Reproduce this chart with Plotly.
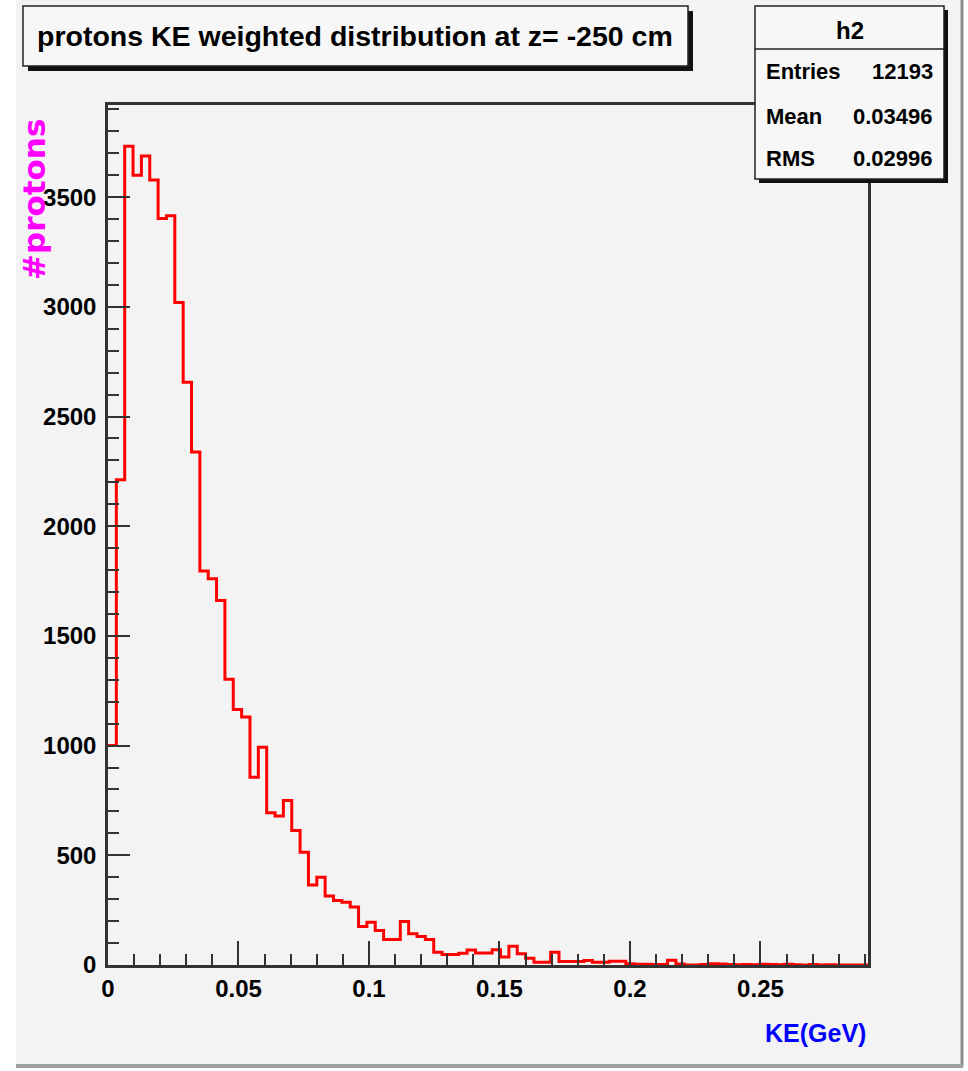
import plotly.graph_objects as go

# ---------------- data ----------------
BIN_WIDTH = 0.0032          # GeV
X_MAX = 0.2912
counts = [
    1000, 2212, 3732, 3600, 3688, 3578, 3403, 3415, 3020, 2656,
    2338, 1796, 1761, 1662, 1302, 1165, 1130, 856, 993, 694,
    679, 750, 613, 514, 365, 400, 315, 294, 286, 264,
    176, 195, 157, 116, 116, 198, 142, 130, 116, 58,
    48, 48, 54, 68, 55, 55, 69, 36, 86, 51,
    31, 13, 13, 58, 16, 16, 16, 20, 13, 13,
    17, 17, 6, 3, 3, 2, 2, 22, 5, 0,
    0, 2, 6, 4, 2, 1, 2, 1, 3, 2,
    1, 3, 1, 0, 2, 0, 1, 0, 0, 0, 0,
]
title_text = "protons KE weighted distribution at z= -250 cm"
stats_name = "h2"
stats_rows = [("Entries", "12193"), ("Mean", "0.03496"), ("RMS", "0.02996")]
x_title = "KE(GeV)"
y_title = "#protons"
x_ticks = [0, 0.05, 0.1, 0.15, 0.2, 0.25]
y_ticks = [0, 500, 1000, 1500, 2000, 2500, 3000, 3500]
Y_MAX = 3920

# ---------------- layout helpers ----------------
W, H = 968, 1071
L, R, T, B = 108, 868, 105, 965   # plot area in pixels


def px(x):
    return (x - L) / (R - L)


def py(y):
    return (B - y) / (B - T)


FONT = "Liberation Sans, Arial, Helvetica, sans-serif"
BG = "#f3f3f3"

edges = [i * BIN_WIDTH for i in range(len(counts) + 1)]
xs = edges
ys = counts + [counts[-1]]

fig = go.Figure()
fig.add_trace(go.Scatter(
    x=xs, y=ys, mode="lines", line=dict(shape="hv", color="#ff0000", width=3),
    hoverinfo="skip", showlegend=False,
))

shapes = []
# canvas background
shapes.append(dict(type="rect", xref="paper", yref="paper", x0=px(16), x1=px(962),
                   y0=py(0), y1=py(1065), fillcolor=BG, line=dict(width=0), layer="below"))
shapes.append(dict(type="line", xref="paper", yref="paper", x0=px(962), x1=px(962),
                   y0=py(0), y1=py(1067), line=dict(color="#8c8c8c", width=3)))
shapes.append(dict(type="line", xref="paper", yref="paper", x0=px(16), x1=px(963),
                   y0=py(1066), y1=py(1066), line=dict(color="#a0a0a0", width=4)))
# title box + shadow
shapes.append(dict(type="rect", xref="paper", yref="paper", x0=px(28), x1=px(693),
                   y0=py(11), y1=py(71), fillcolor="#111111", line=dict(width=0)))
shapes.append(dict(type="rect", xref="paper", yref="paper", x0=px(23), x1=px(688),
                   y0=py(6), y1=py(66), fillcolor="#f7f7f7", line=dict(color="#222", width=1.5)))
# stats box + shadow
shapes.append(dict(type="rect", xref="paper", yref="paper", x0=px(759), x1=px(948),
                   y0=py(10), y1=py(183), fillcolor="#111111", line=dict(width=0)))
shapes.append(dict(type="rect", xref="paper", yref="paper", x0=px(755), x1=px(944),
                   y0=py(6), y1=py(179), fillcolor="#f7f7f7", line=dict(color="#222", width=1.5)))
shapes.append(dict(type="line", xref="paper", yref="paper", x0=px(755), x1=px(944),
                   y0=py(49), y1=py(49), line=dict(color="#222", width=1.5)))

ann = []
ann.append(dict(text=title_text, xref="paper", yref="paper", x=px(355), y=py(36),
                xanchor="center", yanchor="middle", showarrow=False,
                font=dict(family=FONT, size=28.5, color="black", weight="bold")))
ann.append(dict(text=stats_name, xref="paper", yref="paper", x=px(850), y=py(30),
                xanchor="center", yanchor="middle", showarrow=False,
                font=dict(family=FONT, size=24, color="black", weight="bold")))
row_y = [72, 116, 159]
for (k, v), yy in zip(stats_rows, row_y):
    ann.append(dict(text=k, xref="paper", yref="paper", x=px(764), y=py(yy),
                    xanchor="left", yanchor="middle", showarrow=False,
                    font=dict(family=FONT, size=22, color="black", weight="bold")))
    ann.append(dict(text=v, xref="paper", yref="paper", x=px(935), y=py(yy),
                    xanchor="right", yanchor="middle", showarrow=False,
                    font=dict(family=FONT, size=22, color="black", weight="bold")))
ann.append(dict(text=x_title, xref="paper", yref="paper", x=px(868), y=py(1033),
                xanchor="right", yanchor="middle", showarrow=False,
                font=dict(family=FONT, size=25, color="#0000ff", weight="bold")))
ann.append(dict(text=y_title, xref="paper", yref="paper", x=px(34), y=py(200),
                xanchor="center", yanchor="middle", showarrow=False, textangle=-90,
                font=dict(family="DejaVu Sans", size=31, color="#ff00ff", weight="bold")))

tickfont = dict(family=FONT, size=24, color="black", weight="bold")
fig.update_layout(
    width=W, height=H,
    margin=dict(l=L, r=W - R, t=T, b=H - B, pad=0),
    paper_bgcolor="white", plot_bgcolor=BG,
    shapes=shapes, annotations=ann, showlegend=False,
    xaxis=dict(range=[0, X_MAX], tickvals=x_ticks, ticktext=[f"{v:g}" for v in x_ticks],
               ticks="inside", ticklen=24, tickwidth=2, tickcolor="#333",
               minor=dict(dtick=0.01, tick0=0, ticks="inside", ticklen=11, tickwidth=2, tickcolor="#333"),
               showline=True, linecolor="#333", linewidth=2.5, mirror=True,
               showgrid=False, zeroline=False, tickfont=tickfont, ticklabelstandoff=0),
    yaxis=dict(range=[0, Y_MAX], tickvals=y_ticks, ticktext=[str(v) for v in y_ticks],
               ticks="inside", ticklen=22, tickwidth=2, tickcolor="#333",
               minor=dict(dtick=100, tick0=0, ticks="inside", ticklen=11, tickwidth=2, tickcolor="#333"),
               showline=True, linecolor="#333", linewidth=2.5, mirror=True,
               showgrid=False, zeroline=False, tickfont=tickfont, ticklabelstandoff=4),
)

fig.write_html("out.html")
